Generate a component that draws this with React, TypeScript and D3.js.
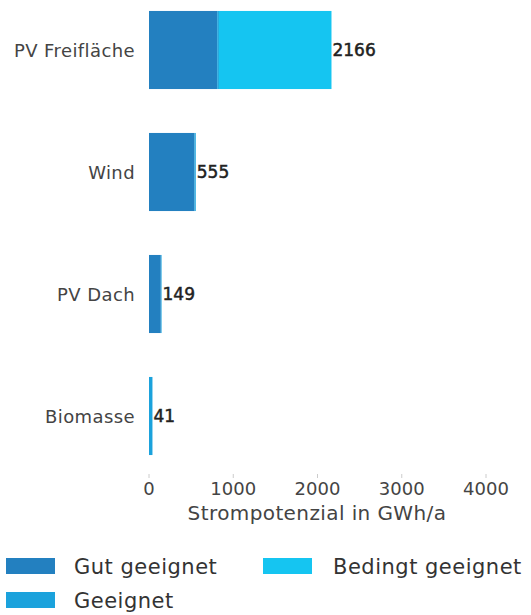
import React from "react";
import * as d3 from "d3";

const categories = ["PV Freifläche", "Wind", "PV Dach", "Biomasse"];
const gutGeeignet = [810, 540, 140, 0];
const geeignet = [20, 15, 9, 41];
const bedingtGeeignet = [1336, 0, 0, 0];
const totals = [2166, 555, 149, 41];
const xTicks = [0, 1000, 2000, 3000, 4000];
const seriesNames = ["Gut geeignet", "Geeignet", "Bedingt geeignet"];
const colors = ["#2380c0", "#1ba2dc", "#15c5f1"];

const FONT = "'DejaVu Sans', sans-serif";

export default function App() {
  const W = 531, H = 615;
  const x = d3.scaleLinear().domain([0, 4000]).range([149, 486]);
  const y = d3.scaleBand<string>().domain(categories).range([-11, 477]).paddingInner(0.36).paddingOuter(0.18);
  const rows = categories.map((c, i) => ({ cat: c, "Gut geeignet": gutGeeignet[i], Geeignet: geeignet[i], "Bedingt geeignet": bedingtGeeignet[i] }));
  const stack = d3.stack<any>().keys(seriesNames)(rows);
  return (
    <svg width={W} height={H} style={{ position: "absolute", left: 0, top: 0, background: "#fff" }} fontFamily={FONT}>
      {stack.map((s, si) => (
        <g key={si} fill={colors[si]}>
          {s.map((d, i) => {
            const w = x(d[1]) - x(d[0]);
            if (w <= 0) return null;
            return <rect key={i} x={x(d[0])} y={y(categories[i])} width={w} height={y.bandwidth()} />;
          })}
        </g>
      ))}
      {categories.map((c, i) => (
        <g key={c}>
          <text x={135} y={(y(c) as number) + y.bandwidth() / 2 + 1} dy="0.35em" textAnchor="end" fontSize={18} letterSpacing={0.4} fill="#444">{c}</text>
          <text x={x(totals[i]) + 1} y={(y(c) as number) + y.bandwidth() / 2} dy="0.35em" fontSize={17} fill="#222" stroke="#222" strokeWidth={0.5}>{totals[i]}</text>
        </g>
      ))}
      {xTicks.map((t) => (
        <g key={t}>
          <line x1={x(t)} x2={x(t)} y1={474} y2={478} stroke="#ccc" />
          <text x={x(t)} y={488.5} dy="0.35em" textAnchor="middle" fontSize={18} fill="#444">{t}</text>
        </g>
      ))}
      <text x={(x(0) + x(4000)) / 2 - 0.5} y={512.5} dy="0.35em" textAnchor="middle" fontSize={20} letterSpacing={0.4} fill="#444">Strompotenzial in GWh/a</text>
      {[
        { name: "Gut geeignet", c: colors[0], sx: 6, tx: 74, cy: 566 },
        { name: "Bedingt geeignet", c: colors[2], sx: 263, tx: 333, cy: 566 },
        { name: "Geeignet", c: colors[1], sx: 6, tx: 74, cy: 600 },
      ].map((l) => (
        <g key={l.name}>
          <rect x={l.sx} y={l.cy - 8} width={49} height={16} fill={l.c} />
          <text x={l.tx} y={l.cy + 1} dy="0.35em" fontSize={21} letterSpacing={0.5} fill="#333">{l.name}</text>
        </g>
      ))}
    </svg>
  );
}
